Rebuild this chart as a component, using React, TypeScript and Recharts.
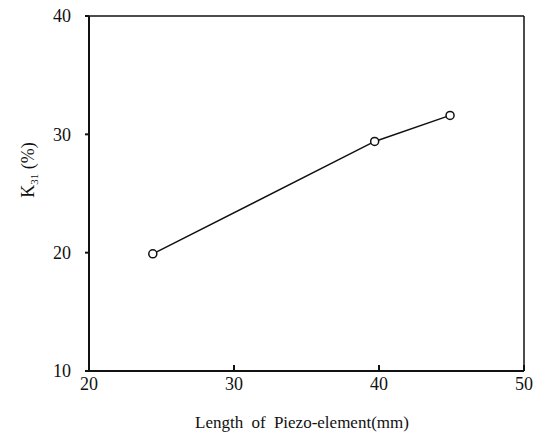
import React from 'react';
import { LineChart, Line, XAxis, YAxis, ReferenceLine } from 'recharts';

const lengths = [24.4, 39.7, 44.9];
const k31 = [19.9, 29.4, 31.6];
const xTicks = [20, 30, 40, 50];
const yTicks = [10, 20, 30, 40];

const data = lengths.map((len, i) => ({ len, k: k31[i] }));

const FONT = 'Liberation Serif, DejaVu Serif, serif';

const YLabel = () => (
  <text
    x={0}
    y={0}
    transform="translate(34, 170) rotate(-90)"
    textAnchor="middle"
    style={{ fontFamily: FONT, fontSize: 18 }}
    fill="#111"
  >
    K<tspan fontSize={11} dy={4}>31</tspan>
    <tspan dy={-4}>{'  (%)'}</tspan>
  </text>
);

const XLabel = () => (
  <text
    x={302}
    y={428}
    textAnchor="middle"
    style={{ fontFamily: FONT, fontSize: 17, wordSpacing: 4 }}
    fill="#111"
  >
    Length of Piezo-element(mm)
  </text>
);

export default function App() {
  const tick = { fontSize: 18, fill: '#111', style: { fontFamily: FONT } };
  return (
    <div style={{ position: 'absolute', left: 0, top: 0, background: '#fff', fontFamily: FONT }}>
      <LineChart width={546} height={436} data={data} margin={{ top: 16, right: 22, bottom: 0, left: 0 }}>
        <XAxis
          dataKey="len"
          type="number"
          domain={[20, 50]}
          ticks={xTicks}
          height={65}
          tick={tick}
          tickSize={-6}
          tickMargin={12}
          stroke="#111"
          strokeWidth={2}
          label={{ content: () => <XLabel /> }}
        />
        <YAxis
          type="number"
          domain={[10, 40]}
          ticks={yTicks}
          width={89}
          tick={tick}
          tickSize={4}
          tickMargin={14}
          stroke="#111"
          strokeWidth={2}
          label={{ content: () => <YLabel /> }}
        />
        <ReferenceLine y={40} stroke="#111" strokeWidth={1.5} />
        <ReferenceLine x={50} stroke="#111" strokeWidth={1.5} />
        <Line
          dataKey="k"
          stroke="#111"
          strokeWidth={1.5}
          dot={{ r: 4, stroke: '#111', strokeWidth: 1.5, fill: '#fff' }}
          isAnimationActive={false}
        />
      </LineChart>
    </div>
  );
}
